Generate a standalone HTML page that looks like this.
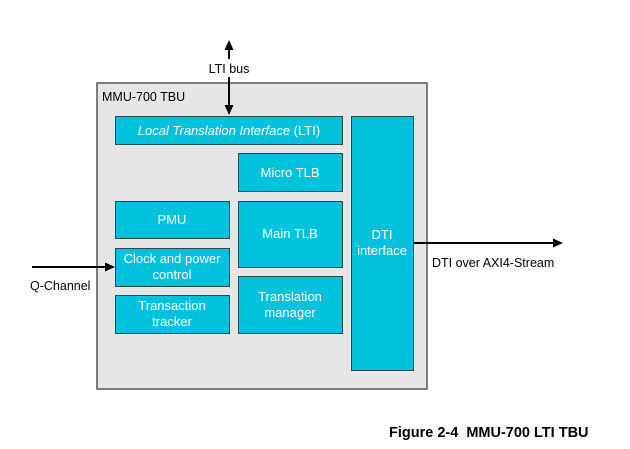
<!DOCTYPE html>
<html><head><style>
body{margin:0;background:#fff;}
svg text{font-family:"Liberation Sans",Arial,sans-serif;}
</style></head><body>
<svg width="630" height="444" viewBox="0 0 630 444" xmlns="http://www.w3.org/2000/svg">
<rect x="97" y="83" width="330" height="306" fill="#e6e6e6" stroke="#555" stroke-width="1.5"/>
<text x="102" y="101" font-size="12.5" fill="#000">MMU-700 TBU</text>
<g fill="#00c2dc" stroke="#2a4a50" stroke-width="1">
<rect x="115.5" y="116.5" width="227" height="28"/>
<rect x="238.5" y="153.5" width="104" height="38"/>
<rect x="115.5" y="201.5" width="114" height="37"/>
<rect x="238.5" y="201.5" width="104" height="66"/>
<rect x="115.5" y="248.5" width="114" height="38"/>
<rect x="115.5" y="295.5" width="114" height="38"/>
<rect x="238.5" y="276.5" width="104" height="57"/>
<rect x="351.5" y="116.5" width="62" height="254"/>
</g>
<g fill="#fff" font-size="13" text-anchor="middle">
<text x="229" y="135"><tspan font-style="italic">Local Translation Interface</tspan> (LTI)</text>
<text x="290" y="177">Micro TLB</text>
<text x="172" y="224">PMU</text>
<text x="290" y="238">Main TLB</text>
<text x="172" y="263">Clock and power</text>
<text x="172" y="279">control</text>
<text x="172" y="310">Transaction</text>
<text x="172" y="326">tracker</text>
<text x="290" y="301">Translation</text>
<text x="290" y="317">manager</text>
<text x="382" y="239">DTI</text>
<text x="382" y="255">interface</text>
</g>
<g stroke="#000" stroke-width="2">
<line x1="229" y1="48" x2="229" y2="108"/>
<line x1="413" y1="243" x2="554" y2="243"/>
<line x1="32" y1="267" x2="107" y2="267"/>
</g>
<rect x="202" y="59" width="54" height="18" fill="#fff"/>
<g fill="#000">
<polygon points="229,40 224.5,50 233.5,50"/>
<polygon points="229,115 224.5,105 233.5,105"/>
<polygon points="563,243 553,238.5 553,247.5"/>
<polygon points="115,267 105,262.5 105,271.5"/>
</g>
<g font-size="12.5" fill="#000">
<text x="229" y="73" text-anchor="middle">LTI bus</text>
<text x="432" y="267">DTI over AXI4-Stream</text>
<text x="30" y="290">Q-Channel</text>
<text x="389" y="437" font-size="14.5" font-weight="bold" xml:space="preserve">Figure 2-4  MMU-700 LTI TBU</text>
</g>
</svg>
</body></html>
